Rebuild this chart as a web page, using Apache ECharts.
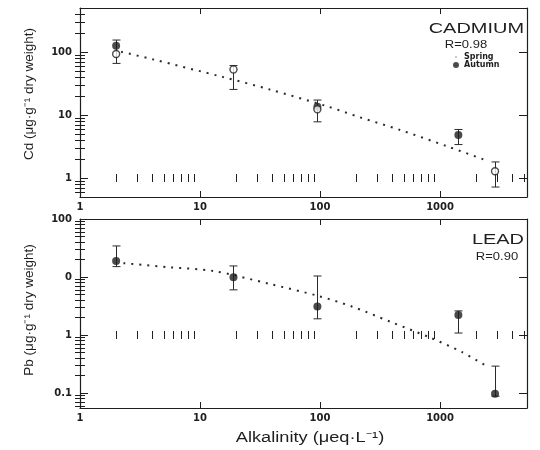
<!DOCTYPE html>
<html>
<head>
<meta charset="utf-8">
<script src="https://cdn.jsdelivr.net/npm/echarts@6/dist/echarts.min.js"></script>
<style>
  html, body { margin: 0; padding: 0; background: #fff; }
  #chart { width: 540px; height: 450px; }
</style>
</head>
<body>
<div id="chart"></div>
<script>
// Tick labels (log axes, one label per decade)
const xTickValues = [1, 10, 100, 1000];
const xTickLabels = ['1', '10', '100', '1000'];
const cdTickValues = [1, 10, 100];
const cdTickLabels = ['1', '10', '100'];
const pbTickValues = [0.1, 1, 10, 100];
const pbTickLabels = ['0.1', '1', '0', '100'];

// Cadmium: [alkalinity, concentration]
const cdSpring = [[2, 93], [19, 53], [95, 12.3], [2870, 1.28]];
const cdAutumn = [[2, 126], [95, 13.5], [1420, 4.8]];
// [alkalinity, low, high]
const cdErrors = [[2, 66, 155], [19, 25.5, 61], [95, 7.8, 17.3], [1420, 3.4, 5.9], [2870, 0.72, 1.8]];
const cdFit = [[2.2, 101], [4, 77], [15.6, 40], [38, 25.5], [114, 13.8], [215, 9.2], [464, 5.8], [1140, 3.2], [2530, 1.85]];

// Lead
const pbMeans = [[2, 18.9], [19, 9.9], [95, 3.1], [1420, 2.2], [2870, 0.097]];
const pbErrors = [[2, 15.1, 34.3], [19, 6.0, 15.5], [95, 1.9, 10.4], [1420, 1.08, 2.6], [2870, 0.088, 0.29]];
const pbFit = [[2.3, 17.3], [5.6, 14.7], [12.9, 12.7], [38, 7.6], [97, 4.7], [184, 3.1], [383, 1.7], [826, 0.9], [1516, 0.51], [2450, 0.29]];

const seasonNames = ['Spring', 'Autumn'];
const cdTitle = 'CADMIUM';
const cdR = 'R=0.98';
const pbTitle = 'LEAD';
const pbR = 'R=0.90';
const xName = 'Alkalinity (μeq·L⁻¹)';
const cdName = 'Cd (μg·g⁻¹ dry weight)';
const pbName = 'Pb (μg·g⁻¹ dry weight)';

const X_MIN = 1, X_MAX = 5300;
const CD_MIN = 0.5, CD_MAX = 500;
const PB_MIN = 0.055, PB_MAX = 100;

// Minor tick multipliers within a decade
const decadeSteps = [2, 3, 4, 5, 6, 7, 8, 9];
const decadeStarts = [0.01, 0.1, 1, 10, 100, 1000];

const INK = '#1e1e1e';
const LABEL_FONT = '"DejaVu Sans", sans-serif';
const TITLE_FONT = '"Liberation Sans", Arial, sans-serif';

function labelFor(values, labels) {
  return function (v) {
    for (let i = 0; i < values.length; i++) {
      if (Math.abs(v / values[i] - 1) < 1e-6) return labels[i];
    }
    return '';
  };
}

function minorValues(lo, hi) {
  const out = [];
  decadeStarts.forEach(function (d) {
    decadeSteps.forEach(function (m) {
      const v = Number((m * d).toPrecision(6));
      if (v > lo && v < hi) out.push(v);
    });
  });
  return out;
}

const frameLine = { color: INK, width: 1.2 };

function xAxis(gridIndex, position, withLabels) {
  return {
    type: 'log', gridIndex: gridIndex, position: position,
    min: X_MIN, max: X_MAX,
    axisLine: { show: true, onZero: false, lineStyle: frameLine },
    axisTick: { show: true, inside: true, length: 6, lineStyle: { color: INK, width: 1 } },
    axisLabel: {
      show: withLabels, margin: 5, formatter: labelFor(xTickValues, xTickLabels),
      fontFamily: LABEL_FONT, fontSize: 10, fontWeight: 'bold', color: INK
    },
    splitLine: { show: false }
  };
}

function yAxis(gridIndex, position, lo, hi, values, labels, withLabels) {
  return {
    type: 'log', gridIndex: gridIndex, position: position,
    min: lo, max: hi,
    axisLine: { show: true, onZero: false, lineStyle: frameLine },
    axisTick: { show: true, inside: true, length: 8, lineStyle: { color: INK, width: 1 } },
    axisLabel: {
      show: withLabels, margin: 8, formatter: labelFor(values, labels),
      fontFamily: LABEL_FONT, fontSize: 10, fontWeight: 'bold', color: INK
    },
    splitLine: { show: false }
  };
}

// Companion axes that carry only the 2..9 minor ticks of each decade.
// They run in log10 units over the same span as the panel's log axis.
function minorAxis(gridIndex, position, lo, hi, len) {
  return {
    type: 'value', gridIndex: gridIndex, position: position,
    min: Math.log10(lo), max: Math.log10(hi), silent: true,
    axisLine: { show: false },
    axisLabel: { show: false },
    splitLine: { show: false },
    axisPointer: { show: false },
    axisTick: {
      show: true, inside: true, length: len,
      lineStyle: { color: INK, width: 1 },
      customValues: minorValues(lo, hi).map(function (v) { return Math.log10(v); })
    }
  };
}

function errorBars(panel, data) {
  return {
    type: 'custom', xAxisIndex: panel * 2, yAxisIndex: panel * 2,
    silent: true, z: 2, data: data, encode: { x: 0, y: [1, 2] },
    renderItem: function (params, api) {
      const x = api.value(0);
      const lo = api.coord([x, api.value(1)]);
      const hi = api.coord([x, api.value(2)]);
      const cx = Math.round(lo[0]) + 0.5;
      const w = 4;
      const st = { stroke: '#2a2a2a', lineWidth: 1 };
      return { type: 'group', children: [
        { type: 'line', shape: { x1: cx, y1: lo[1], x2: cx, y2: hi[1] }, style: st },
        { type: 'line', shape: { x1: cx - w, y1: lo[1], x2: cx + w, y2: lo[1] }, style: st },
        { type: 'line', shape: { x1: cx - w, y1: hi[1], x2: cx + w, y2: hi[1] }, style: st }
      ] };
    }
  };
}

function fitLine(panel, data) {
  return {
    type: 'line', xAxisIndex: panel * 2, yAxisIndex: panel * 2,
    data: data, smooth: 0.3, showSymbol: false, silent: true, z: 3,
    lineStyle: { color: '#2a2a2a', width: 2, type: [2, 6] }
  };
}

function centeredText(x, y, text, font, extra) {
  return Object.assign({
    type: 'text', x: x, y: y, silent: true,
    style: { text: text, font: font, fill: INK, align: 'center', verticalAlign: 'middle',
             textAlign: 'center', textVerticalAlign: 'middle' }
  }, extra || {});
}

function rightText(x, y, text, font, scaleX) {
  return {
    type: 'text', x: x, y: y, scaleX: scaleX, silent: true,
    style: { text: text, font: font, fill: INK, align: 'right', verticalAlign: 'middle',
             textAlign: 'right', textVerticalAlign: 'middle' }
  };
}

const titles = [
  rightText(524, 28.5, cdTitle, '15px ' + TITLE_FONT, 1.33),
  centeredText(466, 45, cdR, '10px ' + TITLE_FONT, { scaleX: 1.3 }),
  rightText(524, 240, pbTitle, '15px ' + TITLE_FONT, 1.33),
  centeredText(497, 257, pbR, '10px ' + TITLE_FONT, { scaleX: 1.3 }),
  centeredText(310, 438, xName, '14px ' + TITLE_FONT, { scaleX: 1.3 }),
  centeredText(29, 94, cdName, '13.5px ' + TITLE_FONT, { rotation: Math.PI / 2 }),
  centeredText(29, 310, pbName, '13.5px ' + TITLE_FONT, { rotation: Math.PI / 2 })
];

const chart = echarts.init(document.getElementById('chart'));

chart.setOption({
  backgroundColor: '#ffffff',
  animation: false,
  grid: [
    { left: 80, top: 8, width: 447, height: 189 },
    { left: 80, top: 219, width: 447, height: 189 }
  ],
  xAxis: [
    xAxis(0, 'bottom', true), xAxis(0, 'top', false),
    xAxis(1, 'bottom', true), xAxis(1, 'top', false),
    minorAxis(0, 'bottom', X_MIN, X_MAX, 4), minorAxis(0, 'top', X_MIN, X_MAX, 4),
    minorAxis(1, 'bottom', X_MIN, X_MAX, 4), minorAxis(1, 'top', X_MIN, X_MAX, 4)
  ],
  yAxis: [
    yAxis(0, 'left', CD_MIN, CD_MAX, cdTickValues, cdTickLabels, true),
    yAxis(0, 'right', CD_MIN, CD_MAX, cdTickValues, cdTickLabels, false),
    yAxis(1, 'left', PB_MIN, PB_MAX, pbTickValues, pbTickLabels, true),
    yAxis(1, 'right', PB_MIN, PB_MAX, pbTickValues, pbTickLabels, false),
    minorAxis(0, 'left', CD_MIN, CD_MAX, 5), minorAxis(0, 'right', CD_MIN, CD_MAX, 5),
    minorAxis(1, 'left', PB_MIN, PB_MAX, 5), minorAxis(1, 'right', PB_MIN, PB_MAX, 5)
  ],
  legend: {
    orient: 'vertical', left: 448, top: 48, itemGap: 0, itemWidth: 6, itemHeight: 6,
    selectedMode: false,
    textStyle: { fontFamily: LABEL_FONT, fontSize: 8, fontWeight: 'bold', color: INK },
    data: [
      { name: seasonNames[0], icon: 'path://M0,0h0.01v0.01h-0.01z M4,4h2v2h-2z M10,10h0.01v0.01h-0.01z',
        itemStyle: { color: INK, borderWidth: 0 } },
      { name: seasonNames[1], icon: 'circle', itemStyle: { color: INK, borderWidth: 0 } }
    ]
  },
  graphic: titles,
  series: [
    fitLine(0, cdFit),
    fitLine(1, pbFit),
    errorBars(0, cdErrors),
    errorBars(1, pbErrors),
    {
      name: seasonNames[1], type: 'scatter', xAxisIndex: 0, yAxisIndex: 0, z: 4,
      data: cdAutumn, symbol: 'circle', symbolSize: 8,
      itemStyle: { color: INK, borderWidth: 0 }
    },
    {
      name: seasonNames[0], type: 'scatter', xAxisIndex: 0, yAxisIndex: 0, z: 5,
      data: cdSpring, symbol: 'circle', symbolSize: 7,
      itemStyle: { color: '#ffffff', borderColor: INK, borderWidth: 1.4 }
    },
    {
      name: 'Pb', type: 'scatter', xAxisIndex: 2, yAxisIndex: 2, z: 4,
      data: pbMeans, symbol: 'circle', symbolSize: 8,
      itemStyle: { color: INK, borderWidth: 0 }
    }
  ]
});
</script>
</body>
</html>
